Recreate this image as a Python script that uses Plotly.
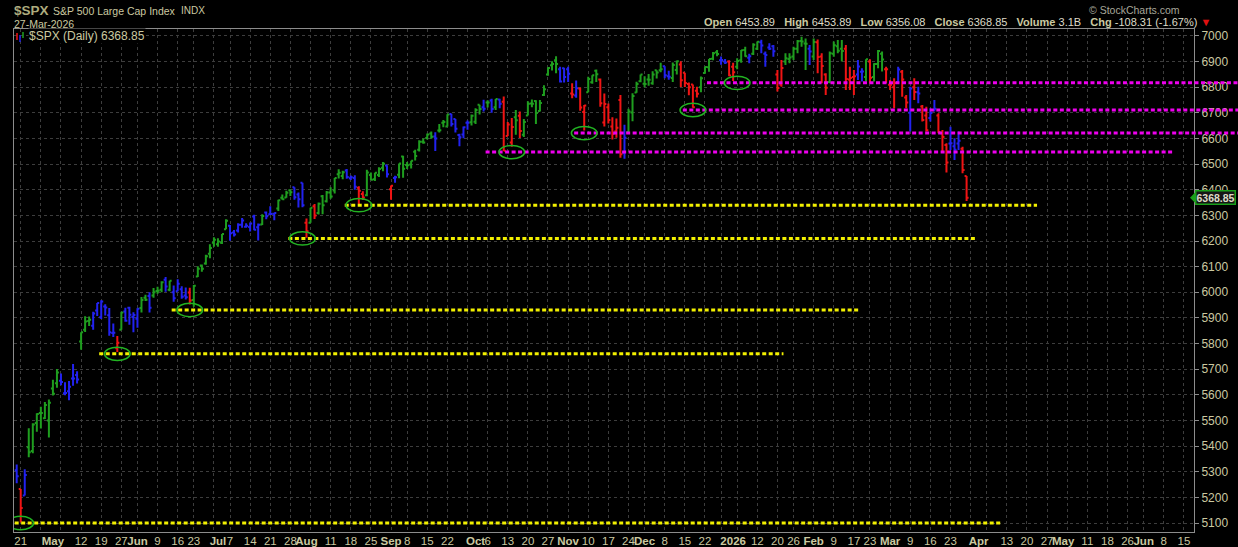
import pandas as pd
import plotly.graph_objects as go

# ---------------- DATA ----------------
holidays = ["2025-04-18", "2025-05-26", "2025-06-19", "2025-07-04", "2025-09-01",
            "2025-11-27", "2025-12-25", "2026-01-01", "2026-01-19", "2026-02-16",
            "2026-04-03", "2026-05-25", "2026-06-19"]
first_day = "2025-04-17"
calendar_end = "2026-06-30"

opens = [
    5305.45, 5232.94, 5207.67, 5395.93, 5381.38, 5489.73, 5529.22, 5508.87, 5499.44,
    5625.14, 5645.51, 5655.32, 5606.22, 5614.47, 5663.94, 5677.81, 5807.66, 5854.23, 5887.63, 5869.84,
    5929.09, 5902.88, 5944.66, 5910.38, 5841.26, 5781.89, 5854.07, 5925.54, 5939.92, 5903.67,
    5896.68, 5938.56, 5978.94, 5985.67, 5987.06, 6004.60, 6009.91, 6049.38, 6009.90, 6000.56,
    6004.00, 6012.15, 5987.93, 5999.67, 5969.67, 6061.21, 6104.19, 6112.10, 6150.70, 6193.36,
    6187.25, 6193.00, 6246.10, 6259.75, 6233.71, 6240.73, 6263.22, 6255.68, 6255.15, 6295.29, 6253.58,
    6264.42, 6311.15, 6304.74, 6306.60, 6326.90, 6368.60, 6370.01, 6397.69, 6409.26, 6381.55, 6427.02,
    6271.71, 6271.71, 6336.04, 6309.30, 6374.56, 6355.32, 6389.67, 6397.50, 6460.13, 6453.17, 6475.40,
    6445.02, 6446.01, 6407.86, 6383.47, 6378.76, 6457.67, 6440.55, 6457.41, 6485.97, 6494.60,
    6401.51, 6445.76, 6458.73, 6529.63, 6497.00, 6498.42, 6547.93, 6556.18, 6586.93, 6601.60, 6619.20,
    6607.66, 6631.28, 6661.76, 6647.17, 6695.19, 6676.28, 6613.19, 6615.34, 6661.56, 6663.59,
    6664.86, 6731.30, 6722.07, 6740.27, 6747.81, 6721.98, 6751.86, 6743.57, 6610.10, 6584.28, 6682.92,
    6688.87, 6614.11, 6690.00, 6736.40, 6745.68, 6706.86, 6770.00, 6850.00, 6886.00, 6905.00, 6870.00, 6874.00,
    6870, 6775, 6768, 6795, 6703, 6780, 6819, 6864, 6830, 6662, 6722, 6647, 6628, 6750, 6544, 6625, 6701, 6779, 6823,
    6813, 6830, 6815, 6866, 6866, 6882, 6843, 6836, 6867, 6889, 6856, 6812, 6811, 6786, 6800, 6855, 6878, 6911,
    6936, 6905, 6900, 6900,
    6880, 6880, 6905, 6945, 6915, 6930, 6950, 6975, 6930, 6955, 6960, 6850, 6810, 6900, 6910, 6920, 6950, 6980,
    6970, 6950,
    6920, 6975, 6920, 6850, 6820, 6930, 6960, 6950, 6950, 6830, 6840, 6850, 6860, 6840, 6900, 6840, 6890, 6930, 6870,
    6810, 6800, 6820, 6860, 6760, 6700, 6800, 6780, 6725, 6690, 6680, 6710, 6690, 6620, 6575, 6580, 6570, 6580,
    6560, 6453.89,
]
highs = [
    5328.31, 5232.94, 5309.60, 5469.69, 5489.40, 5528.11, 5553.66, 5571.95, 5581.84,
    5658.91, 5700.70, 5683.52, 5649.16, 5654.31, 5720.10, 5691.69, 5844.19, 5906.63, 5906.04, 5924.31,
    5958.62, 5968.61, 5953.06, 5938.37, 5878.08, 5829.51, 5924.03, 5939.92, 5943.13, 5922.14,
    5937.40, 5981.35, 5990.48, 5999.70, 6016.87, 6021.31, 6043.01, 6059.40, 6045.43, 6026.16,
    6050.83, 6023.25, 6018.25, 6018.20, 6028.31, 6101.75, 6108.51, 6146.52, 6187.68, 6215.08,
    6210.78, 6227.60, 6284.65, 6262.59, 6242.70, 6269.15, 6290.22, 6269.62, 6272.04, 6302.04, 6268.10,
    6304.05, 6315.61, 6336.08, 6310.04, 6360.64, 6381.31, 6395.82, 6401.07, 6409.26, 6389.62, 6427.02,
    6288.13, 6329.94, 6343.92, 6350.36, 6379.43, 6395.16, 6409.26, 6446.04, 6480.28, 6473.84, 6481.34,
    6456.00, 6456.60, 6414.00, 6393.87, 6478.31, 6466.89, 6466.58, 6487.66, 6508.23, 6495.33,
    6416.54, 6454.53, 6502.08, 6532.65, 6508.00, 6513.14, 6555.94, 6592.62, 6600.21, 6619.00, 6626.99,
    6624.13, 6656.37, 6671.82, 6694.24, 6696.90, 6676.28, 6618.40, 6646.28, 6670.58, 6693.66,
    6718.27, 6731.94, 6750.87, 6749.50, 6754.49, 6753.72, 6755.02, 6764.18, 6664.32, 6680.16, 6710.74,
    6705.44, 6675.86, 6744.99, 6752.19, 6748.90, 6750.00, 6807.60, 6877.40, 6900.90, 6920.30, 6880.00, 6876.00,
    6880, 6815, 6826, 6799, 6731, 6841, 6847, 6869, 6834, 6775, 6736, 6683, 6678, 6770, 6654, 6716, 6776, 6821, 6849.7,
    6843, 6851, 6862, 6866, 6895, 6882, 6864, 6896, 6904, 6901, 6856, 6818, 6811, 6802, 6842, 6880, 6910, 6937,
    6945, 6920, 6910, 6905,
    6895, 6913, 6945, 6958, 6930, 6971, 6978, 6985, 6939, 6971, 6965, 6867, 6906, 6932, 6932, 6958, 6984, 6997,
    6990, 6965,
    6990, 6986, 6932, 6854, 6939, 6978, 6984, 6984, 6965, 6880, 6867, 6906, 6874, 6909, 6909, 6893, 6945, 6939, 6880,
    6828, 6835, 6880, 6867, 6770, 6802, 6835, 6802, 6731, 6724, 6718, 6750, 6698, 6633, 6581, 6646, 6601, 6627,
    6568, 6453.89,
]
lows = [
    5255.58, 5101.63, 5207.67, 5356.23, 5371.96, 5455.86, 5468.64, 5505.70, 5433.24,
    5597.35, 5628.14, 5637.01, 5598.78, 5578.64, 5635.47, 5644.61, 5775.43, 5845.02, 5868.64, 5853.42,
    5907.36, 5895.69, 5909.26, 5830.91, 5825.82, 5767.41, 5854.07, 5884.70, 5873.80, 5843.66,
    5861.43, 5921.24, 5966.11, 5921.20, 5978.63, 5994.18, 6000.26, 6002.32, 6003.88, 5963.21,
    6004.00, 5974.80, 5971.89, 5952.56, 5943.23, 6059.20, 6080.10, 6107.28, 6132.35, 6177.97,
    6177.97, 6188.29, 6246.10, 6201.01, 6217.30, 6233.56, 6251.93, 6251.71, 6237.51, 6241.63, 6201.59,
    6262.30, 6285.27, 6303.79, 6281.12, 6317.49, 6360.57, 6368.53, 6375.48, 6360.63, 6330.89, 6331.40,
    6212.69, 6271.71, 6286.10, 6303.74, 6304.72, 6350.67, 6364.82, 6385.64, 6444.03, 6441.14, 6443.00,
    6437.82, 6400.22, 6343.87, 6360.44, 6374.29, 6438.06, 6433.81, 6449.55, 6472.15, 6447.40,
    6360.58, 6426.91, 6445.00, 6446.63, 6481.10, 6482.74, 6513.87, 6549.54, 6579.43, 6596.30, 6598.50,
    6551.14, 6623.13, 6643.28, 6647.17, 6646.96, 6623.27, 6569.22, 6600.93, 6633.80, 6650.30,
    6656.23, 6693.22, 6705.67, 6720.96, 6699.96, 6711.00, 6717.57, 6550.78, 6610.10, 6568.04, 6614.66,
    6602.03, 6605.62, 6690.00, 6722.03, 6656.41, 6705.20, 6765.50, 6845.00, 6865.00, 6854.00, 6818.00, 6818.00,
    6820, 6757, 6759, 6708, 6631.1, 6780, 6813, 6820, 6724, 6647, 6658, 6596, 6603, 6525, 6521, 6620, 6667, 6778, 6819,
    6800, 6806, 6810, 6834, 6858, 6835, 6829, 6820, 6850, 6801, 6801, 6769, 6720, 6760, 6780, 6852, 6860, 6905,
    6921, 6888, 6890, 6843,
    6824, 6870, 6895, 6919, 6893, 6926, 6945, 6932, 6880, 6945, 6919, 6783, 6802, 6887, 6893, 6906, 6932, 6958,
    6867, 6887,
    6906, 6854, 6815, 6770, 6815, 6919, 6932, 6900, 6789, 6789, 6770, 6828, 6822, 6822, 6815, 6822, 6874, 6861, 6815,
    6789, 6718, 6815, 6763, 6718, 6627, 6750, 6737, 6666, 6627, 6666, 6705, 6620, 6549, 6467, 6555, 6516, 6555,
    6464, 6356.08,
]
closes = [
    5282.70, 5158.20, 5287.76, 5375.86, 5484.77, 5525.21, 5528.75, 5560.83, 5569.06,
    5604.14, 5686.67, 5650.38, 5606.91, 5631.28, 5663.94, 5659.91, 5844.19, 5886.55, 5892.58, 5916.93,
    5958.38, 5963.60, 5940.46, 5844.61, 5842.01, 5802.82, 5921.54, 5888.55, 5912.17, 5911.69,
    5935.94, 5970.37, 5970.81, 5939.30, 6000.36, 6005.88, 6038.81, 6022.24, 6045.26, 5976.97,
    6033.11, 5982.72, 5980.87, 5967.84, 6025.17, 6092.18, 6092.16, 6141.02, 6173.07, 6204.95,
    6198.01, 6227.42, 6279.35, 6229.98, 6225.52, 6263.26, 6280.46, 6259.75, 6268.56, 6243.76, 6263.70,
    6297.36, 6296.79, 6305.60, 6309.62, 6358.91, 6363.35, 6388.64, 6389.77, 6370.86, 6362.90, 6339.39,
    6238.01, 6329.94, 6299.19, 6345.06, 6340.00, 6389.45, 6373.45, 6445.76, 6466.58, 6468.54, 6449.80,
    6449.15, 6411.37, 6395.78, 6370.17, 6466.91, 6439.32, 6465.94, 6481.40, 6501.86, 6460.26,
    6415.54, 6448.26, 6502.08, 6481.50, 6495.15, 6512.61, 6532.04, 6587.47, 6584.29, 6615.28, 6606.76,
    6600.35, 6631.96, 6664.36, 6693.75, 6656.92, 6637.97, 6604.72, 6643.70, 6661.21, 6688.46,
    6711.20, 6715.35, 6715.79, 6740.28, 6714.59, 6753.72, 6735.11, 6552.51, 6654.72, 6644.31, 6671.06,
    6629.07, 6664.01, 6735.13, 6735.35, 6699.40, 6738.44, 6791.69, 6875.16, 6890.89, 6890.59, 6822.34, 6840.20,
    6851.97, 6771.55, 6796.29, 6720.32, 6728.80, 6832.43, 6846.61, 6850.92, 6737.49, 6734.11, 6672.41, 6617.32,
    6642.16, 6538.76, 6602.99, 6705.12, 6765.88, 6812.61, 6849.09,
    6812.63, 6829.37, 6849.72, 6857.12, 6870.40, 6846.51, 6840.51, 6886.68, 6901.00, 6827.41, 6816.51, 6800.26,
    6721.43, 6774.76, 6834.50, 6878.49, 6909.79, 6932.05, 6929.94, 6905.74, 6896.24, 6845.50,
    6858, 6902, 6944, 6921, 6921, 6966, 6977, 6963, 6926, 6950, 6940, 6797, 6875, 6913, 6916, 6950, 6979, 6978,
    6969, 6939,
    6976, 6918, 6883, 6798, 6932, 6964, 6942, 6941, 6832, 6836, 6843, 6881, 6861, 6909, 6837, 6890, 6941, 6908, 6870,
    6810, 6816, 6869, 6830, 6740, 6795, 6781, 6775, 6672, 6632, 6699, 6716, 6625, 6606, 6506, 6581, 6556, 6591,
    6477.16, 6368.85,
]
# Elder impulse state per bar: g = bullish, r = bearish, b = neutral
impulse = list(
    "brbgggggg"
    "ggbbbbbgggbbbbbbrgbbb"
    "bggbgggbgbbbbrgggggg"
    "gggbbbbbbbbgbbbggggbbb"
    "rgrgggggggbbbrrgggggb"
    "rbgggggggggbgggbbbbbg"
    "ggbgbgbrrrgrgggggggggbb"
    "brbrrgggrrrrrrbgggg"
    "gggggbbggrrrrrgggggbbr"
    "rgggbggbbbbrrggggggb"
    "grrrggggrrrbbgrgggr"
    "rrbrrbrbrrbbrrrbbbrr"
)
volume_last = "3.1B"

tick_dates = ["2025-04-21", "2025-05-01", "2025-05-12", "2025-05-19", "2025-05-27", "2025-06-02",
              "2025-06-09", "2025-06-16", "2025-06-23", "2025-07-01", "2025-07-07", "2025-07-14",
              "2025-07-21", "2025-07-28", "2025-08-01", "2025-08-11", "2025-08-18", "2025-08-25",
              "2025-09-02", "2025-09-08", "2025-09-15", "2025-09-22", "2025-10-01", "2025-10-06",
              "2025-10-13", "2025-10-20", "2025-10-27", "2025-11-03", "2025-11-10", "2025-11-17",
              "2025-11-24", "2025-12-01", "2025-12-08", "2025-12-15", "2025-12-22", "2026-01-02",
              "2026-01-12", "2026-01-20", "2026-01-26", "2026-02-02", "2026-02-09", "2026-02-17",
              "2026-02-23", "2026-03-02", "2026-03-09", "2026-03-16", "2026-03-23", "2026-04-01",
              "2026-04-13", "2026-04-20", "2026-04-27", "2026-05-01", "2026-05-11", "2026-05-18",
              "2026-05-26", "2026-06-01", "2026-06-08", "2026-06-15"]
tick_labels = ["21", "May", "12", "19", "27", "Jun", "9", "16", "23", "Jul", "7", "14", "21", "28",
               "Aug", "11", "18", "25", "Sep", "8", "15", "22", "Oct", "6", "13", "20", "27", "Nov",
               "10", "17", "24", "Dec", "8", "15", "22", "2026", "12", "20", "26", "Feb", "9", "17",
               "23", "Mar", "9", "16", "23", "Apr", "13", "20", "27", "May", "11", "18", "26", "Jun",
               "8", "15"]

# support (yellow) and resistance (magenta) levels: price, from date, to date (None = chart edge)
yellow_levels = [(5100, "2025-04-17", "2026-04-09"), (5760, "2025-05-19", "2026-01-21"),
                 (5931, "2025-06-13", "2026-02-18"), (6210, "2025-07-28", "2026-03-31"),
                 (6340, "2025-08-15", "2026-04-22")]
magenta_levels = [(6547, "2025-10-06", "2026-06-10"), (6621, "2025-11-05", None),
                  (6711, "2025-12-15", None), (6817, "2025-12-23", None)]
circled_lows = [("2025-04-21", 5100), ("2025-05-23", 5760), ("2025-06-20", 5931),
                ("2025-07-31", 6210), ("2025-08-20", 6340), ("2025-10-14", 6547),
                ("2025-11-07", 6621), ("2025-12-17", 6711), ("2026-01-05", 6817)]

# ---------------- BUILD ----------------
n = len(closes)
assert len(opens) == n and len(highs) == n and len(lows) == n and len(impulse) == n, \
    (len(opens), len(highs), len(lows), len(closes), len(impulse))

trading_days = [d for d in pd.bdate_range(first_day, calendar_end)
                if d.strftime("%Y-%m-%d") not in holidays]
day_index = {d.strftime("%Y-%m-%d"): i for i, d in enumerate(trading_days)}

# weekly grid: first trading day of each week
week_first = []
seen = set()
for i, d in enumerate(trading_days):
    key = d.isocalendar()[:2]
    if key not in seen:
        seen.add(key)
        if i > 0:
            week_first.append(i)

X0, X1 = -0.67, 292.5
Y0, Y1 = 5065, 7027
PLOT_L, PLOT_R, PLOT_T, PLOT_B = 14, 1194, 29, 532


def px_x(px):
    return (px - PLOT_L) / (PLOT_R - PLOT_L)


def px_y(py):
    return (PLOT_B - py) / (PLOT_B - PLOT_T)


def idx_paper(i):
    return (i - X0) / (X1 - X0)


KHAKI = "#cbc9a0"
KHAKI_DARK = "#aeac7e"
LIGHT = "#dedbc8"
FRAME = "#8c8c8c"
GRID = "#3d3d3d"
COLORS = {"g": "#1f9e1f", "r": "#f01414", "b": "#2222f0"}
FONT = "Liberation Sans, Arial, sans-serif"
NARROW = "Liberation Sans Narrow, Arial Narrow, Liberation Sans, Arial, sans-serif"

fig = go.Figure()
for state in ["b", "g", "r"]:
    sel = [i for i in range(n) if impulse[i] == state]
    fig.add_trace(go.Ohlc(
        x=sel,
        open=[opens[i] for i in sel], high=[highs[i] for i in sel],
        low=[lows[i] for i in sel], close=[closes[i] for i in sel],
        increasing=dict(line=dict(color=COLORS[state], width=2)),
        decreasing=dict(line=dict(color=COLORS[state], width=2)),
        tickwidth=0.5, hoverinfo="skip", showlegend=False,
    ))

shapes = []
edge_paper = px_x(1238)
for levels, color in [(yellow_levels, "#f2f000"), (magenta_levels, "#ee00ee")]:
    for price, d0, d1 in levels:
        x0 = idx_paper(day_index[d0] - 0.5)
        x1 = edge_paper if d1 is None else idx_paper(day_index[d1] + 0.5)
        shapes.append(dict(type="line", xref="paper", yref="y", x0=x0, x1=x1, y0=price, y1=price,
                           line=dict(color=color, width=3, dash="4px,2.5px"), layer="above"))
for d, price in circled_lows:
    i = day_index[d]
    shapes.append(dict(type="circle", xref="x", yref="y", x0=i - 3.2, x1=i + 3.2,
                       y0=price - 26, y1=price + 26, line=dict(color="#22b422", width=1.5)))

# legend icon (tiny bars)
for px, ya, yb, c in [(17, 33, 40, "r"), (20, 35, 42, "b"), (23, 32, 38, "g")]:
    shapes.append(dict(type="line", xref="paper", yref="paper", x0=px_x(px), x1=px_x(px),
                       y0=px_y(ya), y1=px_y(yb), line=dict(color=COLORS[c], width=1.5)))

# current price pointer
last_close = closes[-1]
shapes.append(dict(type="path", xref="paper", yref="y",
                   path=f"M {px_x(1190)} {last_close} L {px_x(1195)} {last_close + 20} "
                        f"L {px_x(1195)} {last_close - 20} Z",
                   fillcolor="#1aa01a", line=dict(width=0)))

chg = closes[-1] - closes[-2]
pct = chg / closes[-2] * 100
num = lambda s: f"<span style='color:{LIGHT}'>{s}</span>"
header = (f"<b>Open</b> {num(f'{opens[-1]:.2f}')}   <b>High</b> {num(f'{highs[-1]:.2f}')}   "
          f"<b>Low</b> {num(f'{lows[-1]:.2f}')}   <b>Close</b> {num(f'{closes[-1]:.2f}')}   "
          f"<b>Volume</b> {num(volume_last)}   <b>Chg</b> {num(f'{chg:.2f} ({pct:.2f}%)')} "
          f"<span style='color:#e01010'>▼</span>")

annotations = [
    dict(text="<b>$SPX</b>", x=px_x(13), y=px_y(11), xref="paper", yref="paper", xanchor="left",
         yanchor="middle", showarrow=False, borderpad=0,
         font=dict(family=FONT, size=13.5, color=KHAKI_DARK)),
    dict(text="S&P 500 Large Cap Index", x=px_x(52), y=px_y(11), xref="paper", yref="paper",
         xanchor="left", yanchor="middle", showarrow=False, borderpad=0,
         font=dict(family=FONT, size=10.5, color=KHAKI)),
    dict(text="INDX", x=px_x(180), y=px_y(11), xref="paper", yref="paper", xanchor="left",
         yanchor="middle", showarrow=False, borderpad=0,
         font=dict(family=FONT, size=10, color=KHAKI)),
    dict(text="27-Mar-2026", x=px_x(13), y=px_y(24), xref="paper", yref="paper", xanchor="left",
         yanchor="middle", showarrow=False, borderpad=0,
         font=dict(family=FONT, size=10.5, color=KHAKI)),
    dict(text="© StockCharts.com", x=px_x(1181), y=px_y(10), xref="paper", yref="paper",
         xanchor="right", yanchor="middle", showarrow=False, borderpad=0,
         font=dict(family=FONT, size=10.5, color="#a6a69a")),
    dict(text=header, x=px_x(1212), y=px_y(22), xref="paper", yref="paper", xanchor="right",
         yanchor="middle", showarrow=False, borderpad=0,
         font=dict(family=FONT, size=11, color=KHAKI)),
    dict(text=f"$SPX (Daily) {closes[-1]:.2f}", x=px_x(28), y=px_y(36), xref="paper",
         yref="paper", xanchor="left", yanchor="middle", showarrow=False, bgcolor="black",
         borderpad=0, font=dict(family=FONT, size=12, color=KHAKI)),
    dict(text=f"<b>{last_close:.2f}</b>", x=px_x(1195), y=last_close, xref="paper", yref="y",
         xanchor="left", yanchor="middle", showarrow=False, bgcolor="#161616",
         bordercolor="#1aa01a", borderwidth=1.5, borderpad=0,
         font=dict(family=FONT, size=10.5, color=LIGHT)),
]

tick_x = [day_index[d] for d in tick_dates]
tick_text = [lab if lab.isdigit() and lab != "2026" else f"<b>{lab}</b>" for lab in tick_labels]

fig.update_layout(
    width=1238, height=547,
    margin=dict(l=PLOT_L, r=1238 - PLOT_R, t=PLOT_T, b=547 - PLOT_B),
    paper_bgcolor="black", plot_bgcolor="black", showlegend=False,
    shapes=shapes, annotations=annotations,
    xaxis=dict(range=[X0, X1], rangeslider=dict(visible=False), tickmode="array",
               tickvals=tick_x, ticktext=tick_text, showgrid=False, ticks="", zeroline=False,
               tickangle=0, automargin=False, ticklabelstandoff=-2,
               tickfont=dict(family=NARROW, size=11.5, color=KHAKI),
               showline=True, linecolor=FRAME, linewidth=1, mirror=True,
               minor=dict(tickmode="array", tickvals=week_first, showgrid=True, gridcolor=GRID,
                          griddash="3px,3px", gridwidth=1, ticks="")),
    yaxis=dict(range=[Y0, Y1], side="right", tickmode="linear", tick0=5100, dtick=100,
               showgrid=True, gridcolor=GRID, griddash="3px,3px", gridwidth=1, automargin=False,
               ticks="outside", ticklen=4, tickcolor=FRAME, zeroline=False,
               tickfont=dict(family=FONT, size=12, color=KHAKI),
               showline=True, linecolor=FRAME, linewidth=1, mirror=True),
)

fig.write_html(
    "out.html",
    config={"displayModeBar": False, "staticPlot": True},
    post_script="document.body.style.margin='0px';document.body.style.overflow='hidden';"
                "document.body.style.background='black';",
)
